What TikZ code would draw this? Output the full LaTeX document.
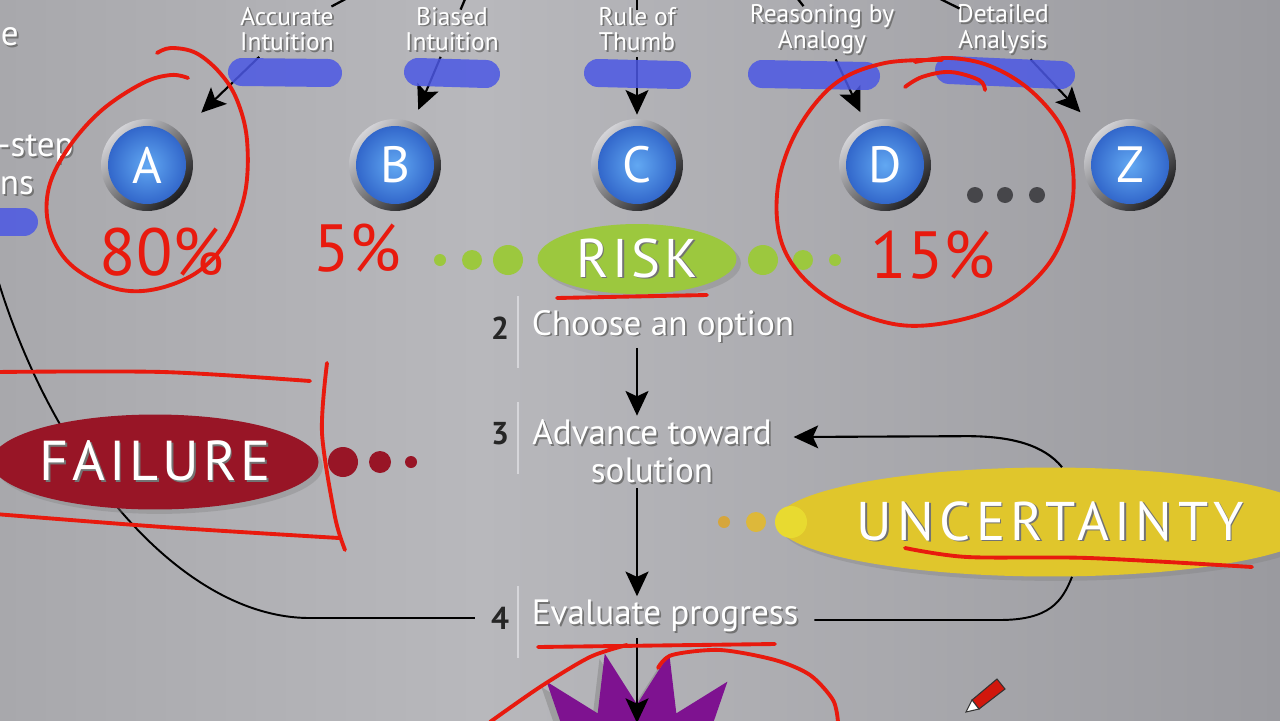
\documentclass[tikz,border=0pt]{standalone}
\usepackage{fontspec}
\setmainfont{PT Sans}
\usetikzlibrary{shapes.geometric,arrows.meta,calc,shadows}

\definecolor{bgl}{HTML}{A8A8AC}
\definecolor{bgm}{HTML}{B8B8BC}
\definecolor{bgr}{HTML}{9A9A9F}
\definecolor{ringlight}{HTML}{D4D4D8}
\definecolor{ringdark}{HTML}{1C1C1E}
\definecolor{bluein}{HTML}{62A8F2}
\definecolor{blueout}{HTML}{2A5CC4}
\definecolor{riskgreen}{HTML}{9CC83E}
\definecolor{failred}{HTML}{981526}
\definecolor{uncyellow}{HTML}{E0C62C}
\definecolor{yelA}{HTML}{D6A63C}
\definecolor{yelB}{HTML}{DDB83A}
\definecolor{yelC}{HTML}{E8DA30}
\definecolor{burstpurple}{HTML}{7E1290}
\definecolor{inkred}{HTML}{E81A0E}
\definecolor{markblue}{HTML}{4C58E4}
\definecolor{dotgray}{HTML}{46464A}
\definecolor{sepgray}{HTML}{D6D6DA}

\newcommand{\shtxt}[1]{\makebox[0pt][l]{\kern1pt\raisebox{-1pt}{\textcolor{black!55}{#1}}}#1}

\begin{document}
\begin{tikzpicture}[x=0.02cm,y=-0.02cm,
  toplbl/.style={text=white, font=\fontsize{14.5}{14.7}\selectfont, align=center, inner sep=2pt},
  opt/.style={circle, minimum size=1.84cm, inner sep=0pt, left color=ringlight, right color=ringdark, shading angle=45,
    text=white, font=\fontsize{29}{29}\selectfont,
    path picture={\shade[inner color=bluein, outer color=blueout] (path picture bounding box.center) circle (0.78cm);}},
  blob/.style={ellipse, inner sep=0pt, text=white, drop shadow={opacity=0.35}},
  num/.style={text=black!85, font=\fontsize{18}{18}\selectfont\bfseries},
  steptxt/.style={text=white, font=\fontsize{20}{21.5}\selectfont, inner sep=2pt},
  sep/.style={draw=sepgray, line width=1pt},
  flow/.style={draw=black, line width=1.6pt, -{Stealth[length=14pt,width=13pt,inset=3pt]}},
  link/.style={draw=black, line width=1.1pt},
  feed/.style={draw=black, line width=1.3pt},
  ink/.style={draw=inkred, line width=2.2pt, line cap=round, line join=round},
  marker/.style={draw=markblue, line width=0.56cm, line cap=round, opacity=0.85},
  hand/.style={text=inkred, font=\fontsize{38}{38}\selectfont}
]
\useasboundingbox (0,0) rectangle (1280,720);
\clip (0,0) rectangle (1280,720);
\shade[left color=bgl, right color=bgm] (0,0) rectangle (480,720);
\shade[left color=bgm, right color=bgr] (480,0) rectangle (1280,720);

% approaches
\node[toplbl] (acc) at (287,30) {\shtxt{Accurate}\\\shtxt{Intuition}};
\node[toplbl] (bia) at (452,30) {\shtxt{Biased}\\\shtxt{Intuition}};
\node[toplbl] (rot) at (637,30) {\shtxt{Rule of}\\\shtxt{Thumb}};
\node[toplbl] (rba) at (822,30) {\shtxt{Reasoning by}\\\shtxt{Analogy}};
\node[toplbl] (det) at (1003,30) {\shtxt{Detailed}\\\shtxt{Analysis}};

\node[steptxt, anchor=west] (frage) at (-3,38) {\shtxt{e}};
\node[steptxt, anchor=west] (fragst) at (-6,150) {\shtxt{-step}};
\node[steptxt, anchor=west] (fragns) at (-4,187) {\shtxt{ns}};

% options
\node[opt] (optA) at (147,165) {A};
\node[opt] (optB) at (395,165) {B};
\node[opt] (optC) at (637,165) {C};
\node[opt] (optD) at (885,165) {D};
\node[opt] (optZ) at (1130,165) {Z};
\foreach \x in {975,1005,1037} \fill[dotgray] (\x,195) circle (8);

\coordinate (srcA) at (372,-15);
\coordinate (srcB) at (471,-15);
\coordinate (srcC) at (637,-15);
\coordinate (srcD) at (787,-15);
\coordinate (srcZ) at (912,-15);
\foreach \s/\t in {srcA/acc,srcB/bia,srcC/rot,srcD/rba,srcZ/det}
  \draw[feed, shorten >=-4pt] (\s) -- (\t);

\foreach \l/\o/\d in {acc/optA/0.58cm,bia/optB/0.27cm,rot/optC/0.08cm,rba/optD/0.24cm,det/optZ/0.52cm}
  \draw[flow, line width=1.2pt, shorten >=\d] (\l) -- (\o);

% highlighter
\draw[marker] (242,72) -- (328,73);
\draw[marker] (418,72) -- (486,74);
\draw[marker] (598,73) -- (677,75);
\draw[marker] (762,74) -- (866,76);
\draw[marker] (949,70) -- (1061,75);
\draw[marker] (0,222) -- (24,222);

% risk
\node[blob, fill=riskgreen, minimum width=3.98cm, minimum height=1.4cm,
  font=\fontsize{31}{31}\selectfont\addfontfeatures{LetterSpace=7}] (risk) at (637,259) {\shtxt{RISK}};
\foreach \x/\r in {440/6,472/10,508/15,763/15,803/10,835/6} \fill[riskgreen] (\x,260) circle (\r);

% steps
\node[num] (n2) at (500,328) {2};
\node[steptxt, anchor=west] (s2) at (528,327) {\shtxt{Choose an option}};
\node[num] (n3) at (500,434) {3};
\node[steptxt, align=center] (s3) at (652,452) {\shtxt{Advance toward}\\\shtxt{solution}};
\node[num] (n4) at (500,618) {4};
\node[steptxt, anchor=west] (s4) at (528,617) {\shtxt{Evaluate progress}};
\foreach \n in {n2,n3,n4} \draw[sep] ($(\n)+(18,-32)$) -- ($(\n)+(18,40)$);

\node[star, star points=14, star point ratio=1.6, minimum size=5.8cm, inner sep=0pt, fill=burstpurple, rotate=12.857,
  drop shadow={shadow xshift=-3pt, shadow yshift=-3pt, opacity=0.45}] (burst) at (637,795) {};

\draw[flow] (s2.south -| risk) -- (s3.north -| risk);
\draw[flow] (s3.south -| risk) -- (s4.north -| risk);
\draw[flow, shorten >=1.44cm] (s4.south -| risk) -- (burst.center);

% failure loop
\coordinate (lout) at (-5,270);
\draw[link, shorten <=0.2cm] (n4.west) -- ++(-175,0) .. controls +(-130,0) and +(55,190) .. (lout);
\node[blob, fill=failred, minimum width=6.36cm, minimum height=1.9cm,
  font=\fontsize{32}{32}\selectfont\addfontfeatures{LetterSpace=7}] (fail) at (155,462) {\shtxt{FAILURE}};
\foreach \x/\r in {343/15,380/11,411/6} \fill[failred] (\x,462) circle (\r);

% uncertainty
\node[blob, fill=uncyellow, minimum width=9.2cm, minimum height=2.18cm,
  font=\fontsize{31}{31}\selectfont\addfontfeatures{LetterSpace=10}] (unc) at (1050,522) {\shtxt{UNCERTAINTY}};
\foreach \x/\r/\c in {724/6/yelA,756/10/yelB,791/16/yelC} \fill[\c] (\x,522) circle (\r);
\draw[flow, line width=1.2pt] ($(unc.north)+(12,0)$) .. controls +(-18,-22) and +(45,0) .. ++(-95,-31) -- ($(s3.east |- n3)+(18,3)$);
\draw[link] ($(s4.east)+(12,3)$) -- ++(185,0) .. controls +(50,0) and +(-10,25) .. ($(unc.south)+(22,0)$);

% red ink
\draw[ink] plot[smooth, tension=0.6] coordinates {(188,78) (171,75) (143,83) (102,110) (69,147) (49,187) (49,227) (69,263) (110,287) (151,290) (196,273) (227,240) (245,193) (247,140) (237,100) (220,73) (196,53) (171,48) (157,53)};
\draw[ink] plot[smooth, tension=0.6] coordinates {(905,87) (922,77) (950,72) (979,80) (985,90)};
\draw[ink] plot[smooth, tension=0.6] coordinates {(942,60) (885,63) (836,83) (799,127) (779,180) (779,233) (799,273) (840,305) (900,325) (960,320) (1010,300) (1050,262) (1070,215) (1073,170) (1062,128) (1030,90) (990,66) (950,58) (915,62)};
\draw[ink] plot[smooth] coordinates {(-5,372) (163,372) (310,381)};
\draw[ink] plot[smooth] coordinates {(327,363) (322,433) (335,517) (345,550)};
\draw[ink] plot[smooth] coordinates {(-5,514) (163,527) (339,538)};
\draw[ink] (557,298) -- (707,295);
\draw[ink] plot[smooth] coordinates {(905,548) (967,557) (1089,558) (1252,567)};
\draw[ink] (538,647) -- (775,644);
\draw[ink] plot[smooth] coordinates {(490,722) (540,687) (590,657) (627,645)};
\draw[ink] plot[smooth] coordinates {(658,668) (672,655) (720,650) (775,660) (810,675) (833,700) (838,722)};

\node[hand] (p80) at (162,252) {80\%};
\node[hand] (p5) at (357,248) {5\%};
\node[hand] (p15) at (933,255) {15\%};

% pencil
\fill[inkred!90!black, draw=black!80, line width=0.6pt] (979,709) -- (972,700) -- (997,679) -- (1005,689) -- cycle;
\fill[white, draw=black!80, line width=0.6pt] (979,709) -- (972,700) -- (966,712) -- cycle;
\end{tikzpicture}
\end{document}
